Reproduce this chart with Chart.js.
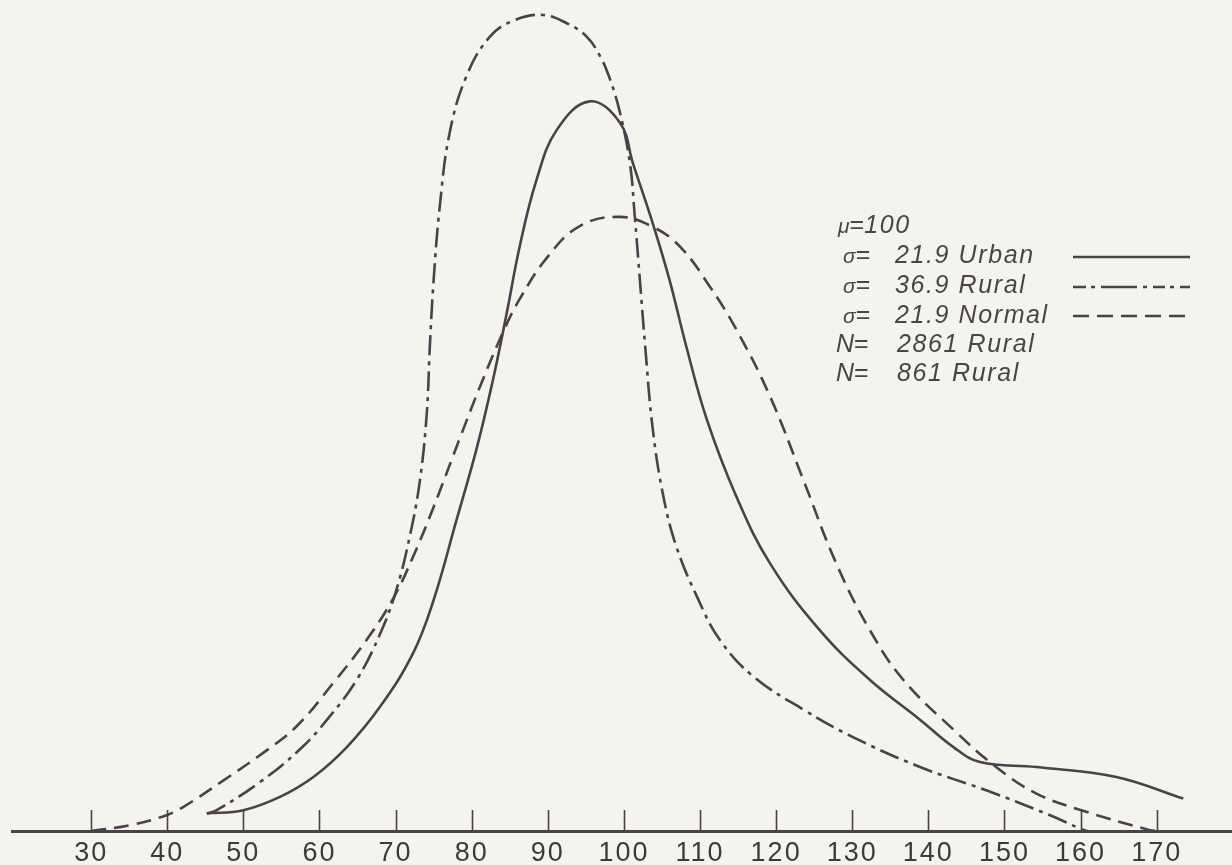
<!DOCTYPE html>
<html>
<head>
<meta charset="utf-8">
<script src="https://cdn.jsdelivr.net/npm/chart.js@4"></script>
<style>
  html, body { margin: 0; padding: 0; background: #f3f4ee; }
  #wrap { position: relative; width: 1232px; height: 865px; overflow: hidden; }
  #chart { position: absolute; left: 0; top: 0; }
  .key { position: absolute; font-family: "Liberation Sans", Arial, sans-serif; font-style: italic;
         color: #4a4448; font-size: 25px; letter-spacing: 1.6px; line-height: 1; white-space: nowrap; }
  .key .sym { font-size: 21px; letter-spacing: 0; }
  .key .eq { font-size: 25px; letter-spacing: 0; font-style: normal; }
  .key .cap { font-size: 25px; letter-spacing: 0; }
  svg.sample { position: absolute; overflow: visible; }
</style>
</head>
<body>
<div id="wrap">
  <canvas id="chart" width="1232" height="877"></canvas>

  <div class="key" style="left:838px; top:212px;"><span class="sym">μ</span><span class="eq">=</span>100</div>
  <div class="key" style="left:843px; top:242px;"><span class="sym">σ</span><span class="eq">=</span></div>
  <div class="key" style="left:895px; top:242px;">21.9 Urban</div>
  <div class="key" style="left:843px; top:272px;"><span class="sym">σ</span><span class="eq">=</span></div>
  <div class="key" style="left:895px; top:272px;">36.9 Rural</div>
  <div class="key" style="left:843px; top:302px;"><span class="sym">σ</span><span class="eq">=</span></div>
  <div class="key" style="left:895px; top:302px;">21.9 Normal</div>
  <div class="key" style="left:836px; top:331px;"><span class="cap">N</span><span class="eq">=</span></div>
  <div class="key" style="left:897px; top:331px;">2861 Rural</div>
  <div class="key" style="left:836px; top:360px;"><span class="cap">N</span><span class="eq">=</span></div>
  <div class="key" style="left:897px; top:360px;">861 Rural</div>

  <svg class="sample" style="left:1073px; top:250px;" width="118" height="14">
    <line x1="0" y1="7" x2="117" y2="7" stroke="#4b4149" stroke-width="2.5"/>
  </svg>
  <svg class="sample" style="left:1073px; top:280px;" width="118" height="14">
    <line x1="0" y1="7" x2="117" y2="7" stroke="#4b4149" stroke-width="2.5" stroke-dasharray="13 5 4 6 36 6 4 6 12 5 4 6"/>
  </svg>
  <svg class="sample" style="left:1073px; top:309px;" width="118" height="14">
    <line x1="0" y1="7" x2="117" y2="7" stroke="#4b4149" stroke-width="2.5" stroke-dasharray="16 8"/>
  </svg>
</div>

<script>
// score axis ticks
const tickValues = [30, 40, 50, 60, 70, 80, 90, 100, 110, 120, 130, 140, 150, 160, 170];

// urban distribution (solid)
const urbanX = [45.2, 50.0, 54.8, 59.2, 63.6, 68.0, 72.3, 75.0, 78.0, 80.7, 82.8, 84.6, 86.3, 88.5, 91.2, 95.5,
                99.5, 101.2, 103.8, 106.0, 108.2, 110.9, 114.8, 119.2, 125.7, 132.3, 138.9, 143.3, 146.8, 154.2, 164.7, 173.5];
const urbanY = [2.1, 2.5, 4.1, 6.5, 10.1, 15.0, 21.4, 27.8, 37.4, 46.2, 54.3, 62.3, 70.3, 78.3, 84.4, 87.8,
                85.2, 80.3, 73.1, 66.3, 58.3, 49.5, 40.2, 32.2, 24.2, 18.2, 13.4, 10.1, 8.3, 7.7, 6.5, 3.9];

// rural distribution (dash-dot)
const ruralX = [45.2, 46.5, 52.2, 57.4, 61.0, 64.9, 68.0, 70.1, 71.9, 73.2, 74.1, 74.5, 75.0, 75.8, 77.1, 79.3,
                82.4, 85.7, 89.4, 92.5, 95.1, 96.9, 98.2, 99.5, 100.8, 101.4, 102.1, 102.8, 103.8, 105.2,
                106.9, 109.6, 112.6, 117.0, 123.6, 130.1, 138.9, 147.6, 156.0, 159.9, 160.9];
const ruralY = [2.1, 2.5, 5.9, 9.8, 13.4, 18.2, 23.8, 29.0, 35.6, 42.2, 50.3, 58.3, 66.3, 75.1, 84.0, 90.8,
                95.6, 97.6, 98.2, 97.2, 95.6, 93.2, 90.4, 86.4, 80.3, 74.3, 66.3, 58.3, 48.3, 40.2,
                34.2, 28.2, 23.0, 18.6, 14.6, 11.3, 7.7, 4.9, 1.9, 0.3, 0];

// normal curve (dashed)
const normalX = [30, 35.1, 39.9, 42.3, 47.4, 52.6, 57.0, 61.8, 66.2, 69.7, 72.3, 75.0, 78.5, 81.1, 84.2, 86.3,
                 89.9, 94.2, 99.5, 103.8, 107.4, 111.3, 114.8, 119.2, 123.6, 127.9, 132.3, 136.7, 143.3, 148.9,
                 154.2, 160.1, 169.1, 170];
const normalY = [0, 0.7, 1.9, 3.0, 6.1, 9.4, 12.6, 17.8, 23.0, 28.0, 33.0, 39.0, 47.4, 53.5, 60.2, 64.0,
                 69.0, 72.8, 73.9, 72.7, 70.3, 65.5, 60.3, 52.3, 42.2, 32.2, 24.2, 18.2, 12.2, 7.7,
                 4.5, 2.5, 0.1, 0];

const ink = '#4b4149';
const toPoints = (xs, ys) => xs.map((x, i) => ({ x: x, y: ys[i] }));

// short tick marks standing up from the axis line, plus a little spacing for the tick labels
const tickMarks = {
  id: 'tickMarks',
  beforeDraw(chart) {
    chart.ctx.letterSpacing = '2px';
  },
  afterDraw(chart) {
    const { ctx, chartArea } = chart;
    const x = chart.scales.x;
    ctx.save();
    ctx.strokeStyle = ink;
    ctx.lineWidth = 1.6;
    tickValues.forEach(v => {
      const px = Math.round(x.getPixelForValue(v)) + 0.5;
      ctx.beginPath();
      ctx.moveTo(px, chartArea.bottom);
      ctx.lineTo(px, chartArea.bottom - 21);
      ctx.stroke();
    });
    ctx.restore();
  }
};

const line = (label, xs, ys, dash) => ({
  label: label,
  data: toPoints(xs, ys),
  borderColor: ink,
  borderWidth: 2.6,
  borderDash: dash,
  pointRadius: 0,
  fill: false,
  tension: 0.4
});

new Chart(document.getElementById('chart'), {
  type: 'line',
  data: {
    datasets: [
      line('Urban', urbanX, urbanY, []),
      line('Rural', ruralX, ruralY, [20, 6, 4, 6]),
      line('Normal', normalX, normalY, [15, 8])
    ]
  },
  options: {
    responsive: false,
    animation: false,
    devicePixelRatio: 1,
    layout: { padding: { left: 12, right: 0, top: 0, bottom: 0 } },
    plugins: { legend: { display: false }, tooltip: { enabled: false } },
    scales: {
      x: {
        type: 'linear',
        min: 19.6,
        max: 179.9,
        grid: { display: false, drawTicks: false, tickLength: 0 },
        border: { display: true, color: ink, width: 3 },
        afterBuildTicks: scale => { scale.ticks = tickValues.map(v => ({ value: v })); },
        ticks: {
          autoSkip: false,
          maxRotation: 0,
          padding: 9.5,
          color: '#3e393d',
          font: { family: '"Liberation Sans", Arial, sans-serif', size: 27, lineHeight: 1.0 }
        }
      },
      y: {
        display: false,
        min: 0,
        max: 100
      }
    }
  },
  plugins: [tickMarks]
});
</script>
</body>
</html>
